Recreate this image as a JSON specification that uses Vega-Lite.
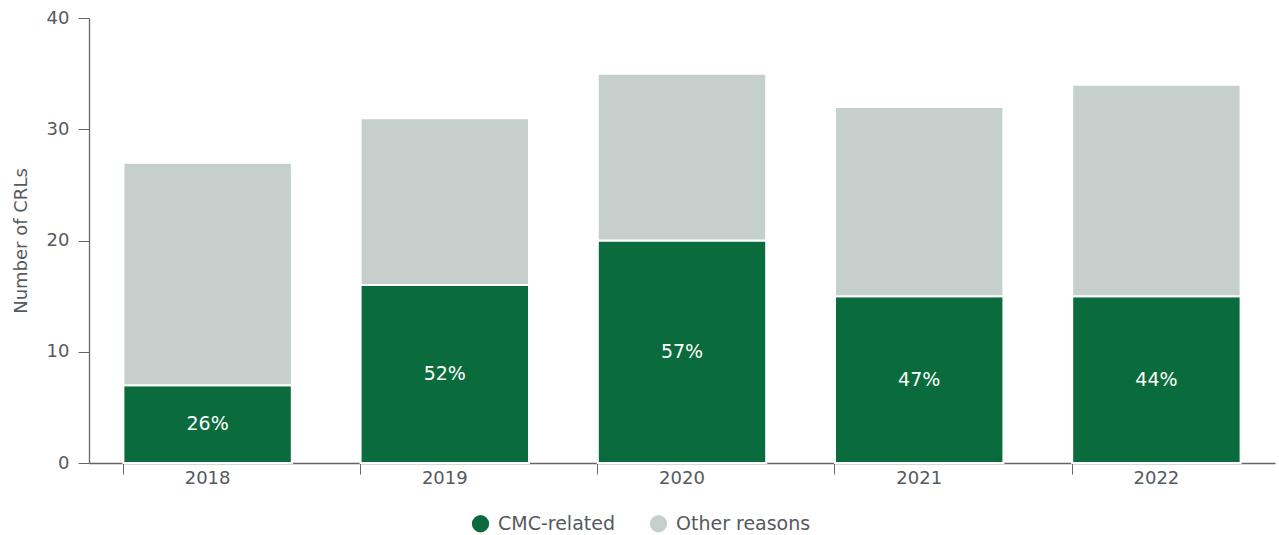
{
  "$schema": "https://vega.github.io/schema/vega-lite/v6.json",
  "width": 1186,
  "height": 445,
  "autosize": {"type": "none"},
  "padding": {"left": 89, "top": 18, "right": 4, "bottom": 72},
  "background": "white",
  "config": {
    "font": "DejaVu Sans",
    "view": {"stroke": null},
    "axis": {"labelColor": "#555a5e", "titleColor": "#555a5e", "domainColor": "#666", "tickColor": "#666", "grid": false}
  },
  "data": {
    "values": [
      {"year": "2018", "category": "CMC-related", "value": 7, "pct": "26%", "ord": 1},
      {"year": "2018", "category": "Other reasons", "value": 20, "ord": 2},
      {"year": "2019", "category": "CMC-related", "value": 16, "pct": "52%", "ord": 1},
      {"year": "2019", "category": "Other reasons", "value": 15, "ord": 2},
      {"year": "2020", "category": "CMC-related", "value": 20, "pct": "57%", "ord": 1},
      {"year": "2020", "category": "Other reasons", "value": 15, "ord": 2},
      {"year": "2021", "category": "CMC-related", "value": 15, "pct": "47%", "ord": 1},
      {"year": "2021", "category": "Other reasons", "value": 17, "ord": 2},
      {"year": "2022", "category": "CMC-related", "value": 15, "pct": "44%", "ord": 1},
      {"year": "2022", "category": "Other reasons", "value": 19, "ord": 2}
    ]
  },
  "encoding": {
    "x": {
      "field": "year", "type": "nominal",
      "scale": {"paddingInner": 0.29, "paddingOuter": 0.145},
      "axis": {"title": null, "labelAngle": 0, "labelFontSize": 18, "labelPadding": -5, "tickSize": 11, "bandPosition": 0, "domainWidth": 1.3}
    }
  },
  "layer": [
    {
      "mark": {"type": "bar", "stroke": "white", "strokeWidth": 2},
      "encoding": {
        "y": {
          "field": "value", "type": "quantitative", "stack": "zero",
          "scale": {"domain": [0, 40]},
          "axis": {"title": "Number of CRLs", "titleFontSize": 18, "titleFontWeight": "normal", "titlePadding": 16, "values": [0, 10, 20, 30, 40], "labelFontSize": 18, "tickSize": 11, "labelPadding": 9, "domainWidth": 1.3}
        },
        "color": {
          "field": "category", "type": "nominal",
          "scale": {"domain": ["CMC-related", "Other reasons"], "range": ["#0a6b3d", "#c5cfcc"]},
          "legend": {"title": null, "orient": "none", "legendX": 382, "legendY": 496, "direction": "horizontal", "symbolType": "circle", "symbolSize": 300, "symbolStrokeWidth": 0, "labelFontSize": 19, "labelColor": "#555a5e", "columnPadding": 34, "labelOffset": 8}
        },
        "order": {"field": "ord", "type": "quantitative"}
      }
    },
    {
      "transform": [
        {"filter": "datum.category == 'CMC-related'"},
        {"calculate": "datum.value / 2", "as": "mid"}
      ],
      "mark": {"type": "text", "color": "white", "fontSize": 19, "baseline": "middle"},
      "encoding": {
        "y": {"field": "mid", "type": "quantitative"},
        "text": {"field": "pct"}
      }
    }
  ]
}
